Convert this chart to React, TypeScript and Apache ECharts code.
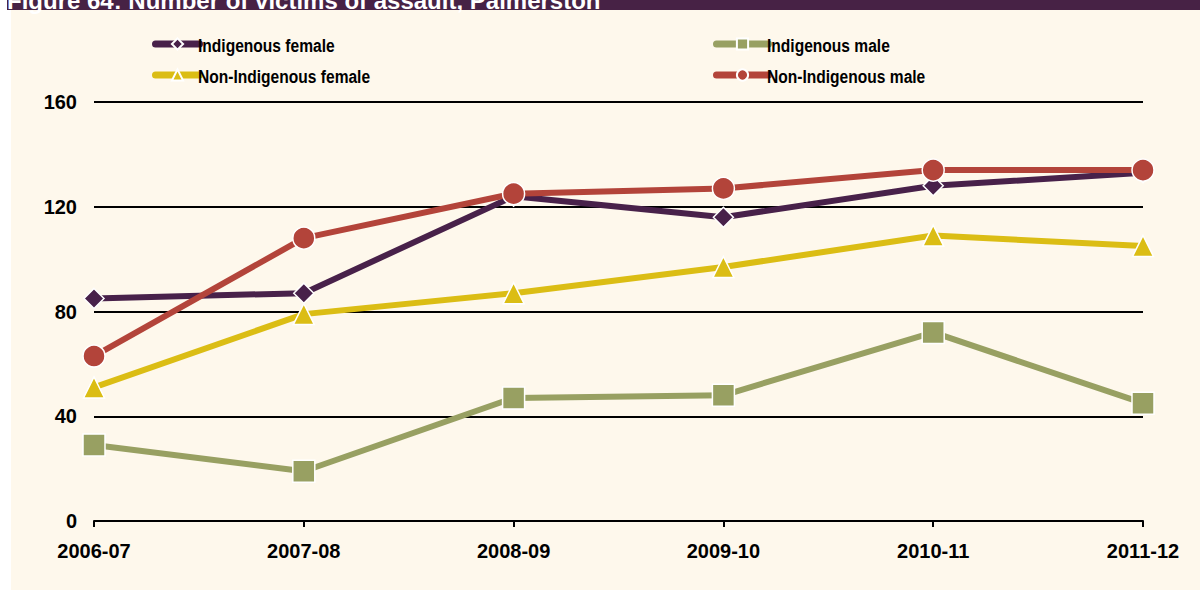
import React, { useEffect, useRef } from "react";
import * as echarts from "echarts";

const categories = ["2006-07", "2007-08", "2008-09", "2009-10", "2010-11", "2011-12"];
const indigenousFemale = [85, 87, 124, 116, 128, 133];
const indigenousMale = [29, 19, 47, 48, 72, 45];
const nonIndigenousFemale = [51, 79, 87, 97, 109, 105];
const nonIndigenousMale = [63, 108, 125, 127, 134, 134];
const yTicks = { min: 0, max: 160, interval: 40 };
const titleText = "Figure 64: Number of victims of assault, Palmerston";

const C_IF = "#48214a";
const C_IM = "#98a062";
const C_NF = "#dbbd14";
const C_NM = "#b3443a";

export default function App() {
  const ref = useRef<HTMLDivElement>(null);
  useEffect(() => {
    document.body.style.margin = "0";
    const chart = echarts.init(ref.current!, null, { renderer: "svg" });
    const font = "'Liberation Sans', Arial, Helvetica, sans-serif";
    const mkSeries = (name: string, data: number[], color: string, symbol: string, size: number) => ({
      name,
      type: "line",
      data,
      symbol,
      symbolSize: size,
      lineStyle: { color, width: 6 },
      itemStyle: { color, borderColor: "#fff", borderWidth: 1.5 },
      emphasis: { disabled: true },
    });
    const mkLegend = (name: string, left: number, top: number, w: number) => ({
      data: [name],
      left,
      top,
      padding: 0,
      itemWidth: w,
      itemHeight: 14,
      itemGap: 0,
      selectedMode: false,
      formatter: () => "",
      lineStyle: { width: 7, cap: "round" },
      textStyle: { fontSize: 1 },
    });
    const legendLabel = (text: string, x: number, y: number) => ({
      type: "text",
      x,
      y,
      scaleX: 0.82,
      style: { text, fill: "#000", font: `bold 19px ${font}`, verticalAlign: "middle", align: "left" },
      z: 10,
    });
    chart.setOption({
      animation: false,
      backgroundColor: "#ffffff",
      graphic: [
        { type: "rect", shape: { x: 7, y: 0, width: 1193, height: 10 }, style: { fill: "#472245" }, z: -10 },
        { type: "rect", shape: { x: 11, y: 10, width: 1189, height: 580 }, style: { fill: "#fef8ec" }, z: -10 },
        {
          type: "text",
          left: 7,
          top: -12,
          style: { text: titleText, fill: "#fff", font: `bold 24px ${font}` },
          z: 10,
        },
        legendLabel("Indigenous female", 198, 45),
        legendLabel("Non-Indigenous female", 198, 76),
        legendLabel("Indigenous male", 767, 45),
        legendLabel("Non-Indigenous male", 767, 76),
      ],
      legend: [
        mkLegend("Indigenous female", 152, 37, 44),
        mkLegend("Non-Indigenous female", 152, 68, 44),
        mkLegend("Indigenous male", 713, 37, 52),
        mkLegend("Non-Indigenous male", 713, 68, 52),
      ],
      grid: { left: 94, right: 57, top: 102, bottom: 69, containLabel: false },
      xAxis: {
        type: "category",
        data: categories,
        boundaryGap: false,
        axisLine: { lineStyle: { color: "#000", width: 2 } },
        axisTick: { show: true, length: 6, lineStyle: { color: "#000", width: 2 } },
        axisLabel: { fontFamily: font, fontWeight: "bold", fontSize: 20, color: "#000", margin: 20 },
        splitLine: { show: false },
      },
      yAxis: {
        type: "value",
        min: yTicks.min,
        max: yTicks.max,
        interval: yTicks.interval,
        axisLine: { show: false },
        axisTick: { show: false },
        axisLabel: { fontFamily: font, fontWeight: "bold", fontSize: 20, color: "#000", margin: 17 },
        splitLine: { lineStyle: { color: "#000", width: 2 } },
      },
      series: [
        mkSeries("Indigenous female", indigenousFemale, C_IF, "diamond", 20),
        mkSeries("Indigenous male", indigenousMale, C_IM, "rect", 22),
        mkSeries("Non-Indigenous female", nonIndigenousFemale, C_NF, "triangle", 21),
        mkSeries("Non-Indigenous male", nonIndigenousMale, C_NM, "circle", 22),
      ],
    });
    return () => chart.dispose();
  }, []);
  return <div ref={ref} style={{ width: 1200, height: 590 }} />;
}
